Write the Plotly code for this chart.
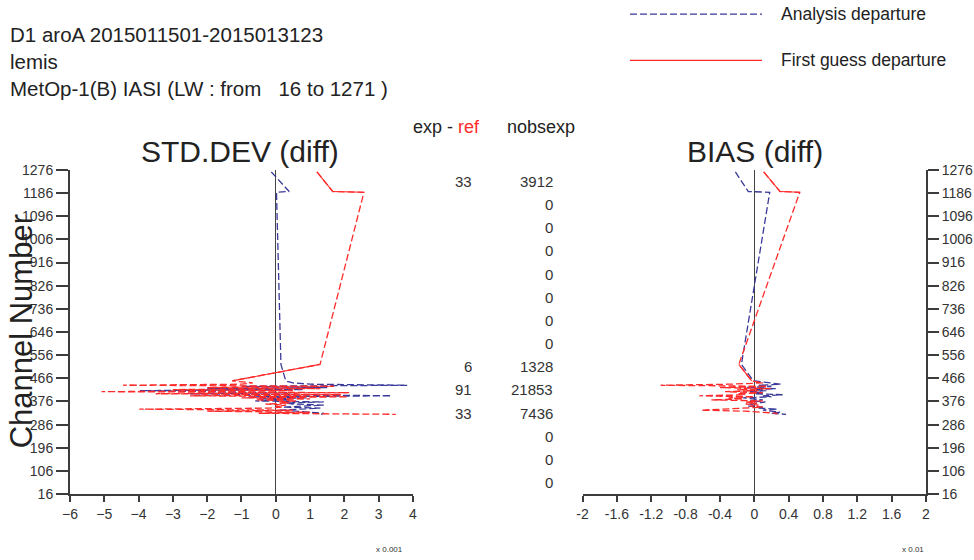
import plotly.graph_objects as go

# ---------------- data ----------------
channels = [1268, 1192, 1189, 520, 456, 448, 443, 439, 435, 430, 426, 422, 418, 414,
            410, 406, 402, 398, 394, 390, 386, 382, 378, 374, 370, 366, 362, 358,
            354, 350, 346, 342, 338, 334, 330, 326]

# STD.DEV (diff), units x 0.001
std_fg = [1.2, 1.66, 2.57, 1.29, -1.27, -0.67, -1.0, -4.45, 1.7, -2.0, 1.3, -3.0, 0.5, -5.08,
          2.14, -3.5, 1.9, -2.5, 2.1, -1.0, 1.0, -0.6, 0.6, 0.1, 0.4, -0.3, 0.3, 0.0,
          0.2, -0.2, -3.98, 0.5, -2.0, 1.0, -0.5, 3.5]
std_an = [-0.13, 0.39, 0.02, 0.15, 0.29, 0.5, 1.0, 3.83, -1.0, 1.5, -2.0, 0.8, -3.96, -1.5,
          0.5, -2.5, 1.0, 3.37, -0.8, 0.9, -0.5, 0.4, -0.6, 1.4, 0.3, 0.5, 1.4, 0.8,
          0.2, 1.3, 0.4, 0.1, 0.6, 1.2, 1.4, 1.32]

# BIAS (diff), units x 0.01
bias_fg = [0.11, 0.30, 0.53, -0.18, -0.03, 0.1, -0.3, -1.09, 0.15, -0.4, 0.19, -0.2, 0.05, -0.34,
           0.1, -0.2, -0.1, -0.64, 0.0, -0.3, -0.13, -0.5, 0.1, -0.1, 0.03, -0.1, 0.05, -0.05,
           0.1, -0.1, -0.3, -0.62, -0.1, 0.1, 0.27, 0.22]
bias_an = [-0.22, -0.07, 0.18, -0.15, -0.01, 0.2, 0.31, 0.05, 0.2, -0.09, 0.25, 0.0, 0.14, -0.05,
           0.1, 0.0, 0.33, 0.1, 0.2, -0.13, 0.05, 0.1, -0.05, 0.13, 0.05, -0.07, 0.0, -0.07,
           0.1, 0.05, 0.27, 0.1, 0.2, 0.3, 0.2, 0.37]

# segments of the first-guess line drawn solid (segment i joins point i and i+1)
fg_solid_segments = [0, 1, 3]

bin_centers = [1231, 1141, 1051, 961, 871, 781, 691, 601, 511, 421, 331, 241, 151, 61]
exp_minus_ref = [33, None, None, None, None, None, None, None, 6, 91, 33, None, None, None]
nobsexp = [3912, 0, 0, 0, 0, 0, 0, 0, 1328, 21853, 7436, 0, 0, 0]

y_ticks = list(range(16, 1277, 90))
x1_ticks = list(range(-6, 5))
x2_ticks = [-2, -1.6, -1.2, -0.8, -0.4, 0, 0.4, 0.8, 1.2, 1.6, 2]
x2_ticktext = ["-2", "-1.6", "-1.2", "-0.8", "-0.4", "0", "0.4", "0.8", "1.2", "1.6", "2"]

title_lines = ["D1 aroA 2015011501-2015013123", "lemis",
               "MetOp-1(B) IASI (LW : from   16 to 1271 )"]

# ---------------- style ----------------
W, H = 974, 560
BLUE = "#3a3a9a"
RED = "#ff2a2a"
AX = "#3c3c3c"
FONT = "Liberation Sans, Arial, sans-serif"

# the page is shown with a small white border, slightly shrunk:
OFF_X, OFF_Y, SC_X, SC_Y = 8.0, 10.0, 0.9877, 0.9643


def px(x):
    """paper x fraction for a target position (pixels) on the final picture"""
    return ((x - OFF_X) / SC_X) / W


def py(y):
    """paper y fraction for a target position (pixels) on the final picture"""
    return 1 - ((y - OFF_Y) / SC_Y) / H


def solid_part(vals, segs):
    xs, ys = [], []
    for s in segs:
        xs += [vals[s], vals[s + 1], None]
        ys += [channels[s], channels[s + 1], None]
    return xs, ys


fig = go.Figure()

for xa, ya, fg, an in [("x", "y", std_fg, std_an), ("x2", "y2", bias_fg, bias_an)]:
    fig.add_trace(go.Scatter(x=an, y=channels, mode="lines", xaxis=xa, yaxis=ya,
                             line=dict(color=BLUE, width=1.3, dash="7px,3px"),
                             showlegend=False, hoverinfo="skip"))
    fig.add_trace(go.Scatter(x=fg, y=channels, mode="lines", xaxis=xa, yaxis=ya,
                             line=dict(color=RED, width=1.3, dash="7px,3px"),
                             showlegend=False, hoverinfo="skip"))
    sx, sy = solid_part(fg, fg_solid_segments)
    fig.add_trace(go.Scatter(x=sx, y=sy, mode="lines", xaxis=xa, yaxis=ya,
                             line=dict(color=RED, width=1.1),
                             showlegend=False, hoverinfo="skip"))

dom_y = [py(492.5), py(170.7)]
tickfont = dict(family=FONT, size=14, color="#333")
common = dict(showgrid=False, showline=True, linecolor=AX, linewidth=2,
              ticks="outside", tickwidth=2, tickcolor=AX, tickfont=tickfont)

fig.update_layout(
    width=W, height=H,
    margin=dict(l=0, r=0, t=0, b=0),
    paper_bgcolor="white", plot_bgcolor="white",
    showlegend=False,
    xaxis=dict(domain=[px(70), px(413)], range=[-6, 4], tickvals=x1_ticks,
               anchor="y", zeroline=True, zerolinecolor="#444", zerolinewidth=1,
               ticklen=6, **common),
    yaxis=dict(domain=dom_y, range=[16, 1276], tickvals=y_ticks, anchor="x",
               side="left", zeroline=False, ticklen=12, **common),
    xaxis2=dict(domain=[px(582.6), px(926)], range=[-2, 2], tickvals=x2_ticks,
                ticktext=x2_ticktext, anchor="y2", zeroline=True, zerolinecolor="#444",
                zerolinewidth=1, ticklen=6, **common),
    yaxis2=dict(domain=dom_y, range=[16, 1276], tickvals=y_ticks, anchor="x2",
                side="right", zeroline=False, ticklen=11, **common),
)

ann = []
# header text
for i, t in enumerate(title_lines):
    ann.append(dict(x=0, y=py(36 + 27 * i), xref="paper", yref="paper", text=t,
                    showarrow=False, xanchor="left", yanchor="middle",
                    font=dict(family=FONT, size=20.5, color="#222")))
# panel titles
ann.append(dict(x=px(240), y=py(152), xref="paper", yref="paper", text="STD.DEV (diff)",
                showarrow=False, xanchor="center", yanchor="middle",
                font=dict(family=FONT, size=30, color="#222")))
ann.append(dict(x=px(755), y=py(152), xref="paper", yref="paper", text="BIAS (diff)",
                showarrow=False, xanchor="center", yanchor="middle",
                font=dict(family=FONT, size=30, color="#222")))
# y title
ann.append(dict(x=px(21), y=py(331), xref="paper", yref="paper", text="Channel Number",
                showarrow=False, textangle=-90, xanchor="center", yanchor="middle",
                font=dict(family=FONT, size=31, color="#222")))
# column headers
ann.append(dict(x=px(447), y=py(128), xref="paper", yref="paper",
                text="exp - <span style='color:#ff2a2a'>ref</span>",
                showarrow=False, xanchor="center", yanchor="middle",
                font=dict(family=FONT, size=18, color="#222")))
ann.append(dict(x=px(541), y=py(128), xref="paper", yref="paper", text="nobsexp",
                showarrow=False, xanchor="center", yanchor="middle",
                font=dict(family=FONT, size=18, color="#222")))
for c, e, n in zip(bin_centers, exp_minus_ref, nobsexp):
    if e is not None:
        ann.append(dict(x=px(474), y=c, xref="paper", yref="y", text=str(e),
                        showarrow=False, xanchor="right", yanchor="middle",
                        font=dict(family=FONT, size=15, color="#333")))
    ann.append(dict(x=px(555), y=c, xref="paper", yref="y", text=str(n),
                    showarrow=False, xanchor="right", yanchor="middle",
                    font=dict(family=FONT, size=15, color="#333")))
# scale factors
ann.append(dict(x=px(390), y=py(548), xref="paper", yref="paper", text="x 0.001",
                showarrow=False, xanchor="center", yanchor="middle",
                font=dict(family=FONT, size=8, color="#333")))
ann.append(dict(x=px(913), y=py(548), xref="paper", yref="paper", text="x 0.01",
                showarrow=False, xanchor="center", yanchor="middle",
                font=dict(family=FONT, size=8, color="#333")))
# legend
legend_items = [("Analysis departure", BLUE, "7px,3px", 16),
                ("First guess departure", RED, "solid", 62)]
shapes = []
for name, col, dash, yy in legend_items:
    shapes.append(dict(type="line", xref="paper", yref="paper", x0=px(630), x1=px(762),
                       y0=py(yy), y1=py(yy), line=dict(color=col, width=1.2, dash=dash)))
    ann.append(dict(x=px(779), y=py(yy), xref="paper", yref="paper", text=name,
                    showarrow=False, xanchor="left", yanchor="middle",
                    font=dict(family=FONT, size=17.5, color="#222")))

fig.update_layout(annotations=ann, shapes=shapes)
fig.write_html("out.html")
